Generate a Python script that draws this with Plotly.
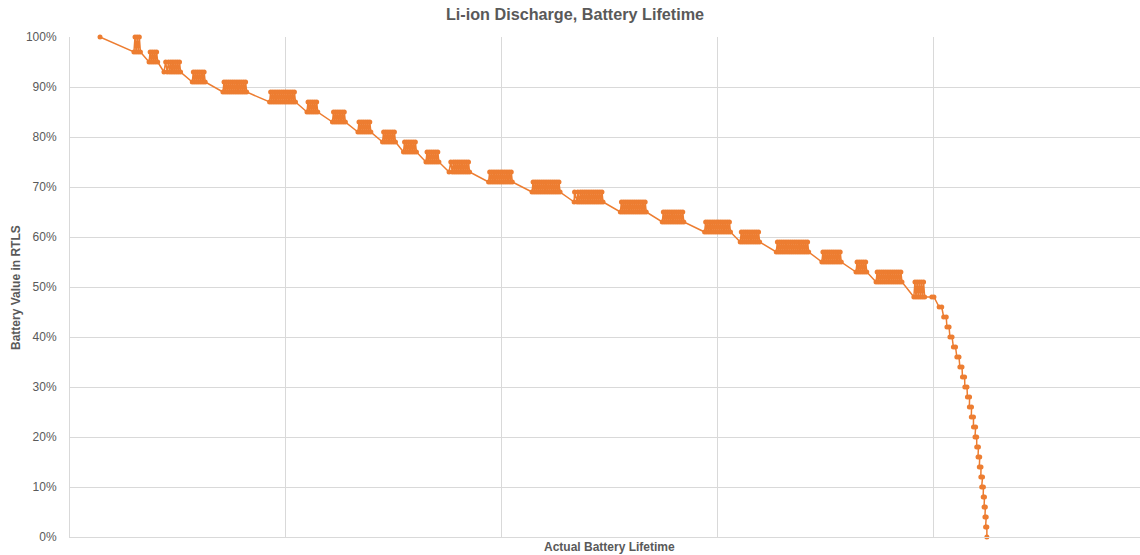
import plotly.graph_objects as go

# Actual lifetime (arbitrary units, one gridline every 100) and RTLS battery reading (%)
start_lifetime = [13.9]
start_battery = [100]

# Readings around each reported step: the RTLS value flips between two levels
cluster_lifetime = [
    [29.6, 30.1, 30.6, 31.1, 31.6, 32.1, 32.6],
    [36.6, 37.1, 37.6, 38.1, 38.6, 39.1, 39.6, 40.1, 40.6],
    [43.5, 44.3, 45.0, 45.6, 46.2, 46.7, 47.2, 47.7, 48.2, 48.7, 49.2, 49.7, 50.2, 50.7, 51.2],
    [56.6, 57.1, 57.6, 58.1, 58.6, 59.1, 59.6, 60.1, 60.6, 61.1, 61.6, 62.1, 62.6],
    [70.8, 71.3, 71.8, 72.3, 72.8, 73.3, 73.8, 74.3, 74.8, 75.3, 75.8, 76.3, 76.8, 77.3, 77.8,
     78.3, 78.8, 79.3, 79.8, 80.3, 80.8, 81.3, 81.8],
    [92.4, 92.9, 93.4, 93.9, 94.4, 94.9, 95.4, 95.9, 96.4, 96.9, 97.4, 97.9, 98.4, 98.9, 99.4,
     99.9, 100.4, 100.9, 101.4, 101.9, 102.4, 102.9, 103.4, 103.9, 104.4],
    [109.7, 110.2, 110.7, 111.2, 111.7, 112.2, 112.7, 113.2, 113.7, 114.2, 114.7],
    [121.5, 122.0, 122.5, 123.0, 123.5, 124.0, 124.5, 125.0, 125.5, 126.0, 126.5, 127.0, 127.5],
    [133.3, 133.8, 134.3, 134.8, 135.3, 135.8, 136.3, 136.8, 137.3, 137.8, 138.3, 138.8, 139.3],
    [144.7, 145.2, 145.7, 146.2, 146.7, 147.2, 147.7, 148.2, 148.7, 149.2, 149.7, 150.2, 150.7],
    [154.4, 154.9, 155.4, 155.9, 156.4, 156.9, 157.4, 157.9, 158.4, 158.9, 159.4, 159.9, 160.4],
    [164.8, 165.3, 165.8, 166.3, 166.8, 167.3, 167.8, 168.3, 168.8, 169.3, 169.8, 170.3, 170.8],
    [175.5, 176.3, 177.0, 177.5, 178.0, 178.5, 179.0, 179.5, 180.0, 180.5, 181.0, 181.5, 182.0,
     182.5, 183.0, 183.5, 184.0, 184.5, 185.0],
    [193.8, 194.3, 194.8, 195.3, 195.8, 196.3, 196.8, 197.3, 197.8, 198.3, 198.8, 199.3, 199.8,
     200.3, 200.8, 201.3, 201.8, 202.3, 202.8, 203.3, 203.8, 204.3, 204.8],
    [213.9, 214.4, 214.9, 215.4, 215.9, 216.4, 216.9, 217.4, 217.9, 218.4, 218.9, 219.4, 219.9,
     220.4, 220.9, 221.4, 221.9, 222.4, 222.9, 223.4, 223.9, 224.4, 224.9, 225.4, 225.9, 226.4, 226.9],
    [233.4, 233.6, 234.8, 235.1, 235.8, 236.3, 236.8, 237.3, 237.8, 238.3, 238.8, 239.3, 239.8,
     240.3, 240.8, 241.3, 241.8, 242.3, 242.8, 243.3, 243.8, 244.3, 244.8, 245.3, 245.8, 246.3, 246.8],
    [254.8, 255.3, 255.8, 256.3, 256.8, 257.3, 257.8, 258.3, 258.8, 259.3, 259.8, 260.3, 260.8,
     261.3, 261.8, 262.3, 262.8, 263.3, 263.8, 264.3, 264.8, 265.3, 265.8, 266.3, 266.8],
    [274.2, 274.7, 275.2, 275.7, 276.2, 276.7, 277.2, 277.7, 278.2, 278.7, 279.2, 279.7, 280.2,
     280.7, 281.2, 281.7, 282.2, 282.7, 283.2, 283.7, 284.2],
    [293.8, 294.3, 294.8, 295.3, 295.8, 296.3, 296.8, 297.3, 297.8, 298.3, 298.8, 299.3, 299.8,
     300.3, 300.8, 301.3, 301.8, 302.3, 302.8, 303.3, 303.8, 304.3, 304.8, 305.3, 305.8],
    [310.3, 310.8, 311.3, 311.8, 312.3, 312.8, 313.3, 313.8, 314.3, 314.8, 315.3, 315.8, 316.3,
     316.8, 317.3, 317.8, 318.3, 318.8, 319.3],
    [327.0, 327.5, 328.0, 328.5, 329.0, 329.5, 330.0, 330.5, 331.0, 331.5, 332.0, 332.5, 333.0,
     333.5, 334.0, 334.5, 335.0, 335.5, 336.0, 336.5, 337.0, 337.5, 338.0, 338.5, 339.0, 339.5,
     340.0, 340.5, 341.0, 341.5, 342.0],
    [348.1, 348.6, 349.1, 349.6, 350.1, 350.6, 351.1, 351.6, 352.1, 352.6, 353.1, 353.6, 354.1,
     354.6, 355.1, 355.6, 356.1, 356.6, 357.1],
    [363.9, 364.4, 364.9, 365.4, 365.9, 366.4, 366.9, 367.4, 367.9, 368.4, 368.9],
    [373.2, 373.7, 374.2, 374.7, 375.2, 375.7, 376.2, 376.7, 377.2, 377.7, 378.2, 378.7, 379.2,
     379.7, 380.2, 380.7, 381.2, 381.7, 382.2, 382.7, 383.2, 383.7, 384.2, 384.7, 385.2],
    [390.7, 391.2, 391.7, 392.2, 392.7, 393.2, 393.7, 394.2, 394.7, 395.2, 395.7],
]

cluster_battery = [
    [97, 100, 97, 100, 97, 100, 97],
    [95, 97, 95, 97, 95, 97, 95, 97, 95],
    [93, 95, 93, 95, 93, 95, 93, 95, 93, 95, 93, 95, 93, 95, 93],
    [91, 93, 91, 93, 91, 93, 91, 93, 91, 93, 91, 93, 91],
    [89, 91, 89, 91, 89, 91, 89, 91, 89, 91, 89, 91, 89, 91, 89,
     91, 89, 91, 89, 91, 89, 91, 89],
    [87, 89, 87, 89, 87, 89, 87, 89, 87, 89, 87, 89, 87, 89, 87,
     89, 87, 89, 87, 89, 87, 89, 87, 89, 87],
    [85, 87, 85, 87, 85, 87, 85, 87, 85, 87, 85],
    [83, 85, 83, 85, 83, 85, 83, 85, 83, 85, 83, 85, 83],
    [81, 83, 81, 83, 81, 83, 81, 83, 81, 83, 81, 83, 81],
    [79, 81, 79, 81, 79, 81, 79, 81, 79, 81, 79, 81, 79],
    [77, 79, 77, 79, 77, 79, 77, 79, 77, 79, 77, 79, 77],
    [75, 77, 75, 77, 75, 77, 75, 77, 75, 77, 75, 77, 75],
    [73, 75, 73, 75, 73, 75, 73, 75, 73, 75, 73, 75, 73,
     75, 73, 75, 73, 75, 73],
    [71, 73, 71, 73, 71, 73, 71, 73, 71, 73, 71, 73, 71,
     73, 71, 73, 71, 73, 71, 73, 71, 73, 71],
    [69, 71, 69, 71, 69, 71, 69, 71, 69, 71, 69, 71, 69,
     71, 69, 71, 69, 71, 69, 71, 69, 71, 69, 71, 69, 71, 69],
    [67, 69, 67, 69, 67, 69, 67, 69, 67, 69, 67, 69, 67,
     69, 67, 69, 67, 69, 67, 69, 67, 69, 67, 69, 67, 69, 67],
    [65, 67, 65, 67, 65, 67, 65, 67, 65, 67, 65, 67, 65,
     67, 65, 67, 65, 67, 65, 67, 65, 67, 65, 67, 65],
    [63, 65, 63, 65, 63, 65, 63, 65, 63, 65, 63, 65, 63,
     65, 63, 65, 63, 65, 63, 65, 63],
    [61, 63, 61, 63, 61, 63, 61, 63, 61, 63, 61, 63, 61,
     63, 61, 63, 61, 63, 61, 63, 61, 63, 61, 63, 61],
    [59, 61, 59, 61, 59, 61, 59, 61, 59, 61, 59, 61, 59,
     61, 59, 61, 59, 61, 59],
    [57, 59, 57, 59, 57, 59, 57, 59, 57, 59, 57, 59, 57,
     59, 57, 59, 57, 59, 57, 59, 57, 59, 57, 59, 57, 59,
     57, 59, 57, 59, 57],
    [55, 57, 55, 57, 55, 57, 55, 57, 55, 57, 55, 57, 55,
     57, 55, 57, 55, 57, 55],
    [53, 55, 53, 55, 53, 55, 53, 55, 53, 55, 53],
    [51, 53, 51, 53, 51, 53, 51, 53, 51, 53, 51, 53, 51,
     53, 51, 53, 51, 53, 51, 53, 51, 53, 51, 53, 51],
    [48, 51, 48, 51, 48, 51, 48, 51, 48, 51, 48],
]

# Final rapid discharge: two readings per reported level
tail_lifetime = [
    399.0, 400.0, 402.4, 403.6, 404.5, 405.7, 406.0, 407.0, 407.4, 408.4,
    409.0, 410.0, 410.6, 411.6, 412.0, 413.0, 413.2, 414.2, 414.3, 415.3,
    415.5, 416.5, 416.4, 417.4, 417.3, 418.3, 418.3, 419.3, 419.0, 419.8,
    419.8, 420.6, 420.4, 421.2, 421.0, 421.8, 421.7, 422.5, 422.1, 422.9,
    422.8, 423.4, 423.2, 423.8, 423.6, 424.2, 423.9, 424.5, 424.5,
]
tail_battery = [
    48, 48, 46, 46, 44, 44, 42, 42, 40, 40,
    38, 38, 36, 36, 34, 34, 32, 32, 30, 30,
    28, 28, 26, 26, 24, 24, 22, 22, 20, 20,
    18, 18, 16, 16, 14, 14, 12, 12, 10, 10,
    8, 8, 6, 6, 4, 4, 2, 2, 0,
]

y_ticks = [0, 10, 20, 30, 40, 50, 60, 70, 80, 90, 100]
y_tick_labels = ["0%", "10%", "20%", "30%", "40%", "50%", "60%", "70%", "80%", "90%", "100%"]
x_grid = [0, 100, 200, 300, 400]

# assemble the single series
lifetime = list(start_lifetime)
battery = list(start_battery)
for cx, cy in zip(cluster_lifetime, cluster_battery):
    n = min(len(cx), len(cy))
    lifetime += cx[:n]
    battery += cy[:n]
lifetime += tail_lifetime
battery += tail_battery

ORANGE = "#ED7D31"
GRID = "#D9D9D9"
TEXT = "#595959"
FONT = "Liberation Sans"

fig = go.Figure()
fig.add_trace(go.Scatter(
    x=lifetime, y=battery,
    mode="lines+markers",
    line=dict(color=ORANGE, width=1.5),
    marker=dict(color=ORANGE, size=5, line=dict(width=0)),
    cliponaxis=False,
    showlegend=False,
))

fig.update_layout(
    width=1140, height=555,
    margin=dict(l=70, r=0, t=37, b=18),
    paper_bgcolor="white", plot_bgcolor="white",
    font=dict(family=FONT, color=TEXT, size=12),
    title=dict(text="<b>Li-ion Discharge, Battery Lifetime</b>",
               x=0.5044, xanchor="center", y=0.9748, yanchor="middle",
               font=dict(family=FONT, size=16.2, color=TEXT)),
    xaxis=dict(
        range=[0, 495.4], tickvals=x_grid, showticklabels=False,
        showgrid=True, gridcolor=GRID, gridwidth=1,
        zeroline=False, showline=True, linecolor=GRID, linewidth=1, ticks="",
    ),
    yaxis=dict(
        range=[0, 100], tickvals=y_ticks, ticktext=y_tick_labels,
        showgrid=True, gridcolor=GRID, gridwidth=1,
        zeroline=False, showline=True, linecolor=GRID, linewidth=1,
        ticks="", ticklabelstandoff=10,
        tickfont=dict(family=FONT, size=12, color=TEXT),
    ),
    annotations=[
        dict(text="<b>Actual Battery Lifetime</b>", xref="paper", yref="paper",
             x=0.504, y=-0.02, xanchor="center", yanchor="middle", showarrow=False,
             font=dict(family=FONT, size=12, color=TEXT)),
        dict(text="<b>Battery Value in RTLS</b>", xref="paper", yref="paper",
             x=-0.0505, y=0.5, xanchor="center", yanchor="middle", textangle=-90,
             showarrow=False, font=dict(family=FONT, size=12, color=TEXT)),
    ],
)

fig.write_html("out.html",
               config={"displayModeBar": False},
               post_script="document.body.style.margin='0px';document.body.style.padding='0px';")
